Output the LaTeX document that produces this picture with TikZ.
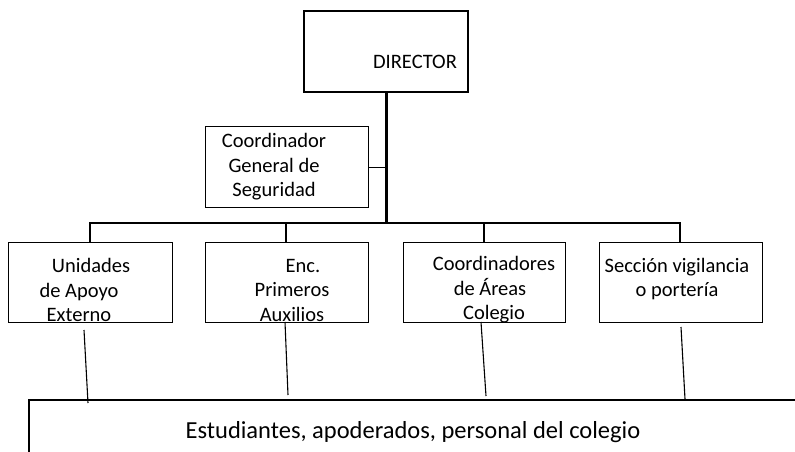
\documentclass[tikz,border=0pt]{standalone}
\usepackage{fontspec}
\setmainfont{Carlito}
\begin{document}
\begin{tikzpicture}[x=1pt,y=-1pt,
  box/.style={draw, line width=1.4pt, inner sep=0pt, anchor=north west},
  txt/.style={font=\fontsize{20.5}{24.5}\selectfont, inner sep=0pt, align=center},
  bigtxt/.style={font=\fontsize{24.5}{29}\selectfont, inner sep=0pt},
  link/.style={line width=2pt},
  thin/.style={line width=1.1pt}]
\useasboundingbox (0,0) rectangle (795,452);
% boxes
\node[box, line width=2pt, minimum width=164pt, minimum height=81pt] (dir) at (303,10) {};
\node[box, minimum width=163pt, minimum height=81pt] (coord) at (205,126) {};
\node[box, minimum width=164pt, minimum height=80pt] (b1) at (8,242) {};
\node[box, minimum width=163pt, minimum height=80pt] (b2) at (205,242) {};
\node[box, minimum width=162pt, minimum height=80pt] (b3) at (403,242) {};
\node[box, minimum width=163pt, minimum height=80pt] (b4) at (599,242) {};
\node[box, line width=2pt, minimum width=820pt, minimum height=100pt] (pop) at (28,399) {};
% texts
\node[txt] (dirt) at (415,62) {DIRECTOR};
\node[txt] (coordt) at (274,167) {Coordinador\\General de\\Seguridad};
\node[txt] (b1t) at (79,290) {\hspace*{24pt}Unidades\\de Apoyo\\Externo};
\node[txt] (b2t) at (292,290) {\hspace*{22pt}Enc.\\Primeros\\Auxilios};
\node[txt] (b3t) at (490,290) {\hspace*{8pt}Coordinadores\\de Áreas\\\hspace*{8pt}Colegio};
\node[txt] (b4t) at (677,279) {Sección vigilancia\\o portería};
\node[bigtxt] (popt) at (413,432) {Estudiantes, apoderados, personal del colegio};
% bus
\coordinate (bus1) at (90,223);
\coordinate (bus2) at (286,223);
\coordinate (bus3) at (484,223);
\coordinate (bus4) at (680,223);
\draw[line width=3pt] (dir.south) -- (dir.south |- bus1);
\draw[line width=2.3pt] ([xshift=-1pt]bus1) -- ([xshift=1pt]bus4);
\draw[line width=1.4pt] (coord.east) -- (coord.east -| dir.south);
\draw[link] (bus1) -- (b1.north -| bus1);
\draw[link] (bus2) -- (b2.north -| bus2);
\draw[link] (bus3) -- (b3.north -| bus3);
\draw[link] (bus4) -- (b4.north -| bus4);
% lower links
\coordinate (l1a) at (84,330);
\coordinate (l1b) at (88,403);
\coordinate (l2a) at (285,322);
\coordinate (l2b) at (288,395);
\coordinate (l3a) at (481,322);
\coordinate (l3b) at (486,396);
\coordinate (l4a) at (681,327);
\coordinate (l4b) at (685,399);
\draw[thin] (l1a) -- (l1b);
\draw[thin] (l2a) -- (l2b);
\draw[thin] (l3a) -- (l3b);
\draw[thin] (l4a) -- (l4b);
\end{tikzpicture}
\end{document}
